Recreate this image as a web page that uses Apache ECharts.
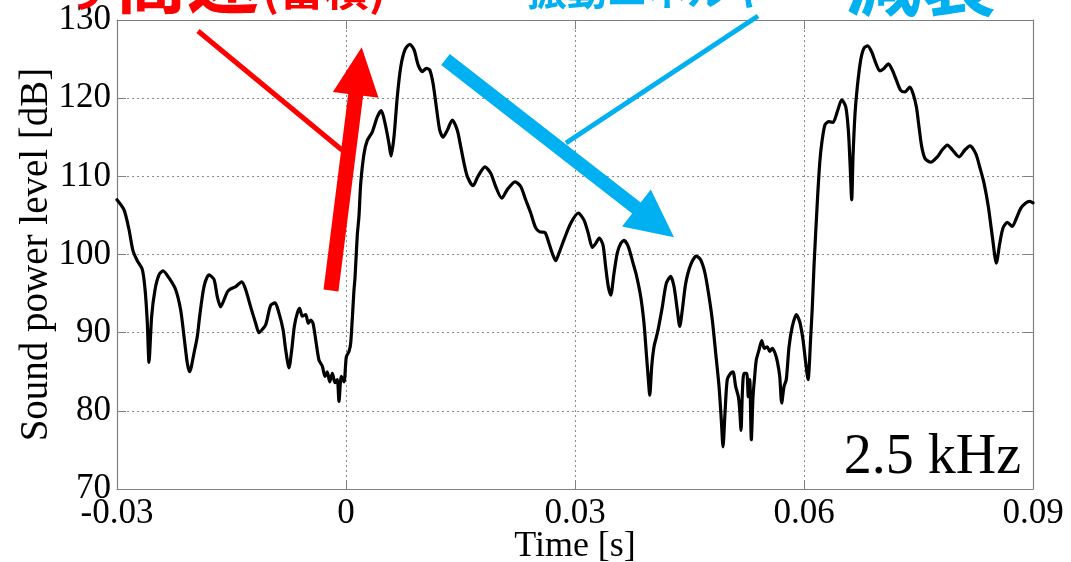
<!DOCTYPE html>
<html>
<head>
<meta charset="utf-8">
<script src="https://cdn.jsdelivr.net/npm/echarts@6/dist/echarts.min.js"></script>
<style>
  html, body { margin: 0; padding: 0; background: #fff; }
  #chart { width: 1071px; height: 562px; }
</style>
</head>
<body>
<div id="chart"></div>
<script>
// Sound power level at 2.5 kHz over one cycle
const times = [
  -0.0300, -0.02908, -0.02843, -0.02791, -0.02734, -0.02669, -0.02633, -0.02603, -0.02581, -0.02546,
  -0.02502, -0.02450, -0.02398, -0.02319, -0.02231, -0.02166, -0.02122, -0.02079, -0.02048, -0.01991,
  -0.01948, -0.01917, -0.01860, -0.01795, -0.01729, -0.01686, -0.01642, -0.01598, -0.01555, -0.01511,
  -0.01445, -0.01366, -0.01314, -0.01249, -0.01183, -0.01140, -0.01097, -0.01052, -0.00987, -0.00930,
  -0.00878, -0.00825, -0.00790, -0.00747, -0.00711, -0.00677, -0.00638, -0.00607, -0.00573, -0.00528,
  -0.00494, -0.00462, -0.00432, -0.00397, -0.00354, -0.00310, -0.00275, -0.00245, -0.00214, -0.00179,
  -0.00144, -0.00114, -0.00092, -0.00062, -0.00026, 0.00004, 0.00039, 0.00062, 0.00105, 0.00118,
  0.00148, 0.00170, 0.00193, 0.00236, 0.00279, 0.00345, 0.00410, 0.00462, 0.00511, 0.00563,
  0.00590, 0.00629, 0.00672, 0.00717, 0.00773, 0.00835, 0.00891, 0.00947, 0.01000, 0.01052,
  0.01097, 0.01140, 0.01183, 0.01228, 0.01271, 0.01327, 0.01393, 0.01458, 0.01503, 0.01546,
  0.01589, 0.01664, 0.01729, 0.01821, 0.01896, 0.01961, 0.02040, 0.02113, 0.02214, 0.02289,
  0.02354, 0.02420, 0.02485, 0.02538, 0.02607, 0.02660, 0.02712, 0.02747, 0.02791, 0.02856,
  0.02944, 0.03043, 0.03118, 0.03174, 0.03227, 0.03271, 0.03318, 0.03367, 0.03402, 0.03436,
  0.03468, 0.03511, 0.03554, 0.03599, 0.03642, 0.03698, 0.03760, 0.03803, 0.03861, 0.03904,
  0.03934, 0.03961, 0.03979, 0.04005, 0.04035, 0.04078, 0.04101, 0.04144, 0.04196, 0.04254,
  0.04297, 0.04340, 0.04372, 0.04406, 0.04450, 0.04516, 0.04589, 0.04647, 0.04703, 0.04756,
  0.04799, 0.04843, 0.04887, 0.04917, 0.04939, 0.04965, 0.04995, 0.05040, 0.05070, 0.05105,
  0.05140, 0.05158, 0.05175, 0.05192, 0.05214, 0.05250, 0.05270, 0.05289, 0.05310, 0.05332,
  0.05354, 0.05375, 0.05411, 0.05446, 0.05480, 0.05519, 0.05551, 0.05585, 0.05620, 0.05651,
  0.05682, 0.05708, 0.05738, 0.05768, 0.05804, 0.05847, 0.05899, 0.05944, 0.05987, 0.06023,
  0.06053, 0.06088, 0.06109, 0.06131, 0.06175, 0.06206, 0.06232, 0.06275, 0.06328, 0.06380,
  0.06437, 0.06494, 0.06547, 0.06581, 0.06603, 0.06625, 0.06642, 0.06669, 0.06699, 0.06743,
  0.06786, 0.06835, 0.06887, 0.06940, 0.06992, 0.07048, 0.07105, 0.07157, 0.07210, 0.07267,
  0.07323, 0.07385, 0.07428, 0.07472, 0.07507, 0.07542, 0.07585, 0.07660, 0.07747, 0.07812,
  0.07878, 0.07943, 0.08031, 0.08110, 0.08175, 0.08250, 0.08302, 0.08359, 0.08415, 0.08467,
  0.08520, 0.08564, 0.08607, 0.08664, 0.08729, 0.08781, 0.08839, 0.08905, 0.08957, 0.09000
];

const levels = [
  107.0, 105.7, 103.2, 100.5, 99.2, 98.1, 95.6, 91.3, 86.2, 92.1,
  95.5, 97.4, 97.9, 97.0, 95.5, 92.9, 89.5, 86.1, 85.0, 87.4,
  89.5, 92.1, 95.9, 97.4, 96.8, 94.6, 93.3, 94.2, 95.2, 95.6,
  95.9, 96.5, 95.5, 93.3, 91.2, 90.0, 90.4, 91.0, 93.5, 93.8,
  92.5, 90.4, 87.8, 85.5, 87.8, 90.8, 92.5, 93.1, 92.1, 92.3,
  91.2, 91.6, 91.2, 89.1, 86.5, 85.7, 84.4, 85.0, 83.7, 84.8,
  83.6, 84.0, 81.2, 84.4, 83.7, 86.9, 87.6, 88.7, 95.5, 97.0,
  102.5, 104.9, 109.1, 112.9, 114.6, 115.7, 117.6, 118.4, 116.8, 114.2,
  112.6, 115.1, 120.2, 124.0, 126.2, 126.9, 126.2, 124.2, 123.4, 123.8,
  123.6, 121.9, 118.9, 115.9, 115.0, 115.9, 117.2, 115.9, 113.8, 111.7,
  110.0, 108.8, 110.0, 111.2, 110.4, 108.7, 107.2, 108.3, 109.3, 108.7,
  107.0, 105.3, 103.4, 102.9, 102.8, 101.4, 99.9, 99.2, 100.2, 101.9,
  104.0, 105.3, 104.4, 102.7, 100.9, 101.4, 102.1, 101.2, 98.4, 95.9,
  94.8, 97.6, 100.2, 101.4, 101.8, 101.0, 98.9, 97.4, 94.6, 91.2,
  87.4, 84.0, 82.0, 85.7, 88.2, 89.9, 91.0, 93.3, 96.3, 97.2,
  95.9, 92.9, 90.8, 92.9, 96.3, 98.7, 99.8, 99.3, 97.6, 94.6,
  91.6, 87.4, 83.1, 78.8, 75.4, 79.7, 84.0, 84.8, 85.0, 83.1,
  81.8, 80.1, 77.5, 82.2, 84.8, 84.8, 81.8, 84.0, 76.3, 81.8,
  84.4, 86.5, 87.8, 89.0, 88.0, 88.2, 87.6, 88.0, 87.4, 86.3,
  84.4, 81.0, 83.1, 84.0, 88.2, 90.8, 92.3, 91.4, 89.1, 86.1,
  84.0, 89.5, 93.3, 98.5, 106.8, 111.7, 114.2, 116.6, 117.0, 116.9,
  118.3, 119.8, 118.9, 115.9, 111.7, 107.0, 112.5, 118.1, 121.5, 124.9,
  126.4, 126.7, 125.9, 124.5, 123.5, 123.8, 124.4, 123.6, 122.3, 121.0,
  120.8, 121.4, 120.6, 118.9, 116.3, 113.8, 112.3, 111.8, 112.5, 113.4,
  114.0, 113.4, 112.5, 113.4, 113.9, 112.9, 111.2, 109.1, 106.1, 102.3,
  98.9, 101.4, 103.4, 104.1, 103.6, 104.6, 105.9, 106.6, 106.8, 106.6
];

const xTicks = [-0.03, 0, 0.03, 0.06, 0.09];
const yTicks = [70, 80, 90, 100, 110, 120, 130];
const bandLabel = '2.5 kHz';

const RED = '#ff0000';
const BLUE = '#00b0f0';
const SERIF = '"Liberation Serif", "Times New Roman", serif';
const CJK = '"Noto Sans CJK JP", sans-serif';
const FRAME = '#808080';

const chart = echarts.init(document.getElementById('chart'), null, { renderer: 'canvas' });

const fmtTick = v => String(Math.round(v * 100) / 100);
const gridLine = { show: true, lineStyle: { color: '#8a8a8a', type: [2, 3], width: 1 } };
const tickInside = { show: true, inside: true, length: 9, lineStyle: { color: FRAME, width: 1 } };
const frameLine = { show: true, onZero: false, lineStyle: { color: FRAME, width: 1.2 } };

const xRange = { min: xTicks[0], max: xTicks[xTicks.length - 1], interval: xTicks[1] - xTicks[0] };
const yRange = { min: yTicks[0], max: yTicks[yTicks.length - 1], interval: yTicks[1] - yTicks[0] };

// Arrow shaft + head helper (pixel-space annotation shapes)
function arrow(x0, y0, x1, y1, shaftW, headLen, headHalf, color) {
  const dx = x1 - x0, dy = y1 - y0, L = Math.hypot(dx, dy);
  const ux = dx / L, uy = dy / L, nx = -uy, ny = ux;
  const bx = x1 - ux * headLen, by = y1 - uy * headLen;
  const hw = shaftW / 2;
  return {
    type: 'polygon', z: 100,
    shape: { points: [
      [x0 + nx * hw, y0 + ny * hw], [bx + nx * hw, by + ny * hw],
      [bx + nx * headHalf, by + ny * headHalf], [x1, y1],
      [bx - nx * headHalf, by - ny * headHalf], [bx - nx * hw, by - ny * hw],
      [x0 - nx * hw, y0 - ny * hw]
    ] },
    style: { fill: color }
  };
}

const option = {
  backgroundColor: '#fff',
  animation: false,
  grid: { left: 117, right: 38, top: 20, bottom: 73, containLabel: false, outerBoundsMode: 'none' },
  xAxis: [
    {
      type: 'value', position: 'bottom', ...xRange,
      axisLine: frameLine, axisTick: tickInside, splitLine: gridLine,
      axisLabel: { color: '#000', fontFamily: SERIF, fontSize: 35, margin: 7, formatter: fmtTick },
      name: 'Time [s]', nameLocation: 'middle', nameGap: 40, nameMoveOverlap: false,
      nameTextStyle: { color: '#000', fontFamily: SERIF, fontSize: 36 }
    },
    {
      type: 'value', position: 'top', ...xRange,
      axisLine: frameLine, axisTick: tickInside, splitLine: { show: false },
      axisLabel: { show: false }
    }
  ],
  yAxis: [
    {
      type: 'value', position: 'left', ...yRange,
      axisLine: frameLine, axisTick: tickInside, splitLine: gridLine,
      axisLabel: { color: '#000', fontFamily: SERIF, fontSize: 35, margin: 6 },
      name: 'Sound power level [dB]', nameLocation: 'middle', nameGap: 61, nameRotate: 90,
      nameMoveOverlap: false,
      nameTextStyle: { color: '#000', fontFamily: SERIF, fontSize: 39 }
    },
    {
      type: 'value', position: 'right', ...yRange,
      axisLine: frameLine, axisTick: tickInside, splitLine: { show: false },
      axisLabel: { show: false }
    }
  ],
  series: [{
    type: 'line',
    data: times.map((t, i) => [t, levels[i]]),
    showSymbol: false,
    smooth: 0.25,
    lineStyle: { color: '#000', width: 3.2, join: 'round', cap: 'round' },
    z: 5
  }],
  graphic: [
    // panel label
    { type: 'text', z: 50, right: 50, top: 430,
      style: { text: bandLabel, font: '56px ' + SERIF, fill: '#000' } },
    // heading fragments at the top edge
    { type: 'text', z: 50, left: 64, top: -33,
      style: { text: 'り', font: 'bold 45px ' + CJK, fill: RED } },
    { type: 'text', z: 50, left: 115, top: -56,
      style: { text: '高速', font: 'bold 72px ' + CJK, fill: RED } },
    { type: 'text', z: 50, left: 262, top: -34,
      style: { text: '(蓄積)', font: 'bold 45px ' + CJK, fill: RED } },
    { type: 'text', z: 50, left: 527, top: -30,
      style: { text: '振動エネルギー', font: 'bold 40px ' + CJK, fill: BLUE } },
    { type: 'text', z: 50, left: 846, top: -56,
      style: { text: '減衰', font: 'bold 75px ' + CJK, fill: BLUE } },
    // pointer lines
    { type: 'line', z: 100, shape: { x1: 198, y1: 31, x2: 342, y2: 150 },
      style: { stroke: RED, lineWidth: 5 } },
    { type: 'line', z: 100, shape: { x1: 566, y1: 143, x2: 758, y2: 16 },
      style: { stroke: BLUE, lineWidth: 5 } },
    // thick arrows
    arrow(331, 290.5, 361.7, 47.3, 15, 48, 23, RED),
    arrow(445.5, 59.5, 674, 237.3, 14, 47.6, 23.4, BLUE)
  ]
};

chart.setOption(option);
</script>
</body>
</html>
